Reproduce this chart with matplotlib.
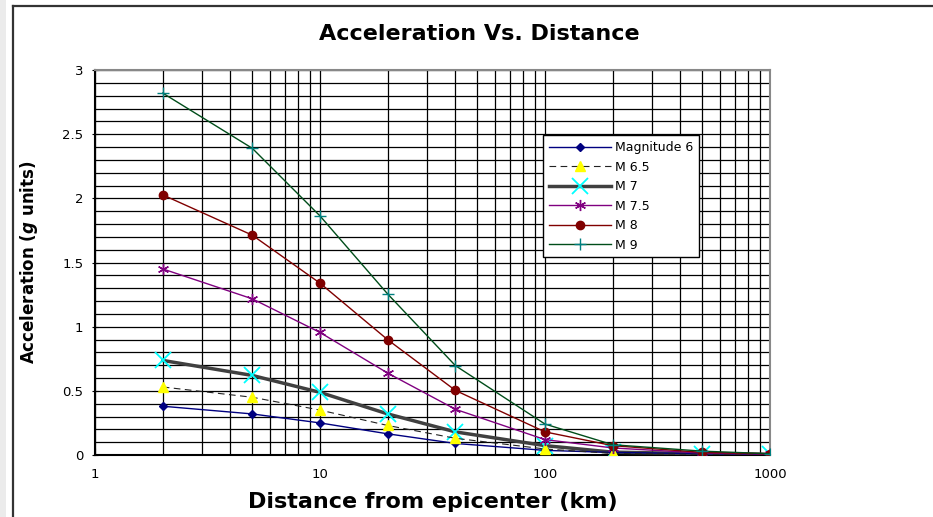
import matplotlib
matplotlib.use("Agg")
import matplotlib.pyplot as plt
import numpy as np
from matplotlib.ticker import FixedLocator, NullFormatter

plt.rcParams['font.family'] = ['DejaVu Sans']
plt.rcParams['mathtext.fontset'] = 'custom'
plt.rcParams['mathtext.it'] = 'DejaVu Sans:italic:bold'
plt.rcParams['mathtext.rm'] = 'DejaVu Sans:bold'

# distance (km)
dist = [2, 5, 10, 20, 40, 100, 200, 500, 1000]

# acceleration (g units)
m6 = [0.38, 0.32, 0.25, 0.165, 0.09, 0.036, 0.02, 0.01, 0.005]
m65 = [0.53, 0.45, 0.35, 0.23, 0.13, 0.047, 0.012, 0.006, 0.003]
m7 = [0.737, 0.62, 0.488, 0.32, 0.18, 0.073, 0.022, 0.01, 0.005]
m75 = [1.45, 1.217, 0.955, 0.638, 0.356, 0.12, 0.055, 0.015, 0.007]
m8 = [2.027, 1.713, 1.339, 0.898, 0.503, 0.18, 0.073, 0.02, 0.01]
m9 = [2.82, 2.39, 1.863, 1.254, 0.696, 0.241, 0.08, 0.03, 0.01]

W, H = 933, 517
fig = plt.figure(figsize=(W / 100, H / 100), dpi=100)
fig.patch.set_facecolor('white')

# outer chart frame (cropped screenshot style)
fig.patches.append(plt.Rectangle((0, 0), 6 / W, 1, transform=fig.transFigure,
                                 facecolor='#ebebeb', edgecolor='none', zorder=0))
fig.add_artist(plt.Line2D([13 / W, 13 / W], [0, 1 - 6 / H], transform=fig.transFigure,
                          color='#333333', lw=1.6))
fig.add_artist(plt.Line2D([13 / W, 1], [1 - 6 / H, 1 - 6 / H], transform=fig.transFigure,
                          color='#333333', lw=1.6))

left, right, top, bottom = 95, 770, 70, 455
ax = fig.add_axes([left / W, 1 - bottom / H, (right - left) / W, (bottom - top) / H])

ax.set_xscale('log')
ax.set_xlim(1, 1000)
ax.set_ylim(0, 3)

ax.plot(dist, m6, color='#000080', lw=1, marker='D', ms=4, label='Magnitude 6', zorder=5)
ax.plot(dist, m65, color='#222222', lw=0.8, ls=(0, (6, 4)), marker='^', ms=7,
        mfc='#ffff00', mec='#ffff00', label='M 6.5', zorder=5)
ax.plot(dist, m7, color='#404040', lw=2.5, marker='x', ms=11, mew=1.3,
        mec='#00ffff', label='M 7', zorder=4)
ax.plot(dist, m75, color='#800080', lw=1, marker=(6, 2, 0), ms=8, mew=1,
        mec='#800080', label='M 7.5', zorder=5)
ax.plot(dist, m8, color='#800000', lw=1, marker='o', ms=6, label='M 8', zorder=5)
ax.plot(dist, m9, color='#004d1a', lw=1, marker='+', ms=8, mew=1,
        mec='#008080', label='M 9', zorder=5)

# grid
ax.yaxis.set_major_locator(FixedLocator([0, 0.5, 1, 1.5, 2, 2.5, 3]))
ax.yaxis.set_minor_locator(FixedLocator(np.arange(0, 3.01, 0.1)))
ax.xaxis.set_major_locator(FixedLocator([1, 10, 100, 1000]))
minors = [m * 10 ** d for d in range(3) for m in range(2, 10)]
ax.xaxis.set_minor_locator(FixedLocator(minors))
ax.xaxis.set_minor_formatter(NullFormatter())
ax.set_xticklabels(['1', '10', '100', '1000'])
ax.set_yticklabels(['0', '0.5', '1', '1.5', '2', '2.5', '3'])
ax.grid(True, which='both', color='black', lw=0.9)
ax.set_axisbelow(True)

ax.tick_params(axis='both', which='major', labelsize=9.5, length=5, direction='inout',
               color='black', pad=6)
ax.tick_params(axis='both', which='minor', length=0)
ax.tick_params(axis='x', which='major', length=5, direction='in', pad=9)
for s in ax.spines.values():
    s.set_color('#888888')
    s.set_linewidth(1.5)
ax.spines['bottom'].set_color('black')
ax.spines['left'].set_color('black')

ax.set_xlabel('Distance from epicenter (km)', fontsize=16, fontweight='bold', labelpad=8)
ax.set_ylabel(r'Acceleration ($\mathit{g}$ units)', fontsize=12, fontweight='bold',
              labelpad=16)
fig.text(479 / W, 1 - 34 / H, 'Acceleration Vs. Distance',
         fontsize=16, fontweight='bold', ha='center', va='center')

leg = ax.legend(loc='upper left', bbox_to_anchor=(0.664, 0.83), fontsize=9,
                frameon=True, fancybox=False, framealpha=1, edgecolor='black',
                handlelength=5.0, borderpad=0.45, labelspacing=0.52, handletextpad=0.3,
                borderaxespad=0)
leg.get_frame().set_linewidth(1)

fig.savefig('out.png', dpi=100)
